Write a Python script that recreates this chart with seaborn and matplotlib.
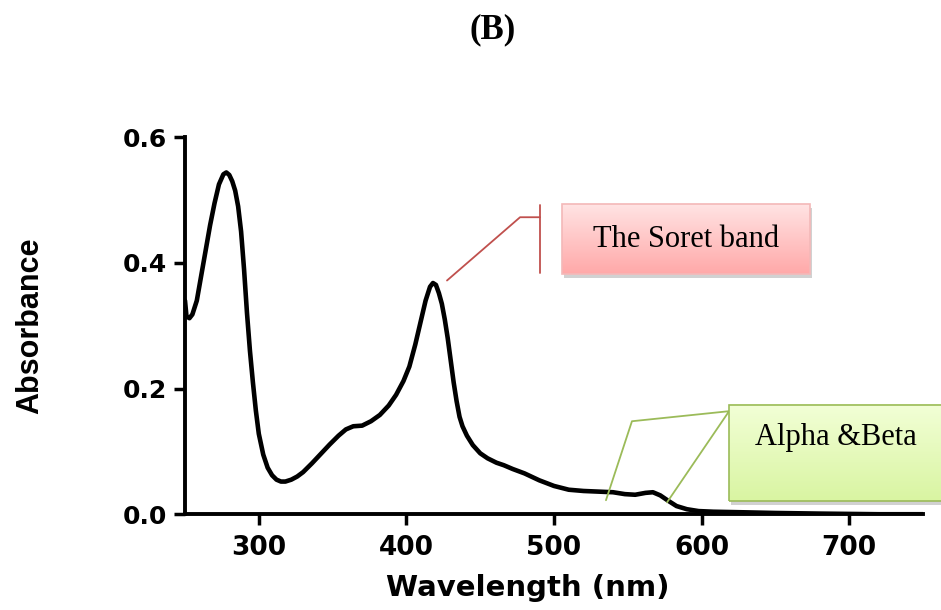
import numpy as np
import matplotlib
matplotlib.use("Agg")
import matplotlib.pyplot as plt
import seaborn as sns
import pandas as pd
from matplotlib.patches import Rectangle

# spectrum
wavelength = [250, 251, 253, 255, 258, 261, 264, 267, 270, 273, 276, 278, 280, 282, 284,
              286, 288, 290, 292, 294, 296, 298, 300, 303, 306, 309, 312, 315, 318, 322,
              326, 330, 336, 342, 348, 354, 359, 364, 370, 376, 382, 388, 393, 398, 402,
              406, 410, 413, 416, 418, 420, 422, 424, 426, 428, 430, 432, 434, 436, 438,
              441, 445, 450, 455, 461, 466, 472, 480, 490, 500, 510, 520, 530, 540, 548,
              555, 562, 567, 572, 577, 583, 590, 598, 608, 630, 650, 680, 720, 750]
absorbance = [0.34, 0.315, 0.312, 0.318, 0.34, 0.38, 0.42, 0.46, 0.495, 0.525, 0.541, 0.544,
              0.540, 0.53, 0.515, 0.49, 0.45, 0.39, 0.32, 0.26, 0.21, 0.165, 0.128, 0.095,
              0.074, 0.062, 0.055, 0.052, 0.052, 0.055, 0.06, 0.067, 0.081, 0.096, 0.111,
              0.125, 0.135, 0.140, 0.141, 0.148, 0.158, 0.173, 0.19, 0.212, 0.235, 0.27,
              0.31, 0.34, 0.362, 0.368, 0.365, 0.352, 0.335, 0.31, 0.28, 0.245, 0.21, 0.18,
              0.155, 0.14, 0.125, 0.11, 0.097, 0.089, 0.082, 0.078, 0.072, 0.065, 0.054,
              0.045, 0.039, 0.037, 0.036, 0.035, 0.032, 0.031, 0.034, 0.035, 0.03, 0.022,
              0.013, 0.008, 0.005, 0.004, 0.003, 0.002, 0.001, 0.0, 0.0]

x_ticks = [300, 400, 500, 600, 700]
y_ticks = [0.0, 0.2, 0.4, 0.6]

df = pd.DataFrame({"Wavelength": wavelength, "Absorbance": absorbance})

sns.set_theme(style="ticks")
plt.rcParams["font.family"] = ["DejaVu Sans"]
plt.rcParams["text.color"] = "black"
plt.rcParams["axes.labelcolor"] = "black"
plt.rcParams["xtick.color"] = "black"
plt.rcParams["ytick.color"] = "black"

fig = plt.figure(figsize=(9.41, 6.10), dpi=100)
ax = fig.add_axes([0.1966, 0.157, 0.7843, 0.618])

sns.lineplot(data=df, x="Wavelength", y="Absorbance", color="black", lw=3.3, ax=ax)
ax.lines[0].set_solid_joinstyle("round")
ax.lines[0].set_solid_capstyle("round")

ax.set_xlim(250, 750)
ax.set_ylim(0, 0.6)
ax.set_xticks(x_ticks)
ax.set_yticks(y_ticks)
ax.set_yticklabels([f"{v:.1f}" for v in y_ticks])
sns.despine(ax=ax)
for s in ["left", "bottom"]:
    ax.spines[s].set_linewidth(2.8)
    ax.spines[s].set_color("black")
ax.tick_params(axis="both", direction="out", length=8, width=2.5, color="black",
               labelcolor="black")
ax.tick_params(axis="x", pad=7)
ax.tick_params(axis="y", pad=5)
for lab in ax.get_xticklabels():
    lab.set_fontsize(19)
    lab.set_fontweight("bold")
for lab in ax.get_yticklabels():
    lab.set_fontsize(18)
    lab.set_fontweight("bold")

ax.set_xlabel("Wavelength (nm)", fontsize=21, fontweight="bold", color="black")
ax.set_ylabel("Absorbance", fontsize=22, fontweight="bold", family="Liberation Sans",
              color="black")
ax.xaxis.set_label_coords(0.465, -0.158)
ax.yaxis.set_label_coords(-0.19, 0.5)

fig.text(0.523, 0.951, "(B)", ha="center", va="center", fontsize=25,
         fontweight="bold", family="Liberation Serif", color="black")


def gradient_box(x0, x1, y0, y1, top, bottom, edge):
    # shadow
    ax.add_patch(Rectangle((x0 + 1.5, y0 - 0.006), x1 - x0, y1 - y0, facecolor="#999999",
                           edgecolor="none", alpha=0.45, zorder=4, clip_on=False))
    grad = np.linspace(0, 1, 64).reshape(-1, 1)
    cmap = matplotlib.colors.LinearSegmentedColormap.from_list("g", [top, bottom])
    ax.imshow(grad, extent=(x0, x1, y0, y1), cmap=cmap, aspect="auto",
              origin="upper", zorder=5, clip_on=False)
    ax.add_patch(Rectangle((x0, y0), x1 - x0, y1 - y0, facecolor="none",
                           edgecolor=edge, lw=1.2, zorder=6, clip_on=False))


# Soret band callout
gradient_box(505.5, 673.5, 0.382, 0.493, "#FFE3E3", "#FFA9A9", "#F4B8B8")
ax.plot([427.5, 477, 490.5], [0.372, 0.4727, 0.4727], color="#C0504D", lw=1.3,
        zorder=3, clip_on=False)
ax.plot([490.5, 490.5], [0.3836, 0.4918], color="#C0504D", lw=1.3, zorder=3, clip_on=False)
ax.text(589.5, 0.4375, "The Soret band", ha="center", va="center", fontsize=22,
        family="Liberation Serif", color="black", zorder=7)

# Alpha & Beta callout
gradient_box(618.6, 775, 0.0207, 0.1735, "#F2FFD6", "#D9F5A2", "#9BBB59")
ax.plot([535.2, 552.8, 618.6, 576.6], [0.0223, 0.148, 0.164, 0.019], color="#9BBB59",
        lw=1.3, zorder=3, clip_on=False)
ax.text(636, 0.1226, "Alpha &Beta", ha="left", va="center", fontsize=22,
        family="Liberation Serif", color="black", zorder=7, clip_on=False)

ax.set_xlim(250, 750)
ax.set_ylim(0, 0.6)

fig.savefig("out.png", dpi=100)
